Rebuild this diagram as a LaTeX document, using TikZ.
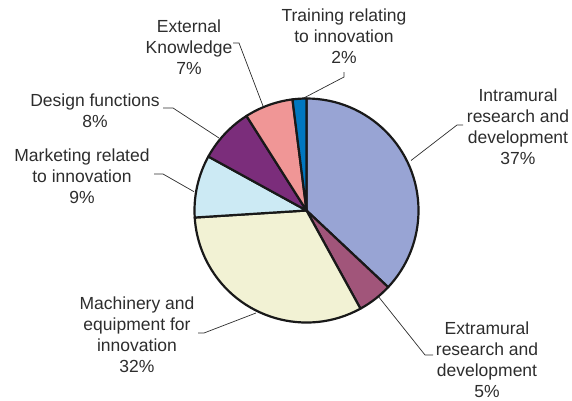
\documentclass[tikz,border=0pt]{standalone}
\usepackage{fontspec}
\setmainfont{Liberation Sans}
\usetikzlibrary{calc}
\definecolor{intracol}{RGB}{152,164,212}
\definecolor{extracol}{RGB}{161,85,122}
\definecolor{machcol}{RGB}{242,242,212}
\definecolor{mktcol}{RGB}{204,234,244}
\definecolor{designcol}{RGB}{123,45,123}
\definecolor{extcol}{RGB}{240,150,150}
\definecolor{traincol}{RGB}{0,119,192}
\definecolor{textgray}{RGB}{45,45,45}
\def\pieslice[#1](#2:#3){\filldraw[#1] (306.5,189.5) -- ++(#2:112) arc (#2:#3:112) -- cycle;}

\begin{document}
\begin{tikzpicture}[x=1pt,y=1pt,
	lbl/.style={font=\fontsize{17.5}{21}\selectfont, text=textgray, align=center, inner sep=0pt, anchor=north},
	leader/.style={draw=textgray, line width=0.7pt},
	slice/.style={draw=black!90, line width=2.2pt, line join=round}]
			%%%%% START %%%%%
			\useasboundingbox (0,0) rectangle (572,400);
			
			\node[lbl] (intra) at (518,311) {Intramural\\research and\\development\\37\%};
			\node[lbl] (extra) at (487,78.3) {Extramural\\research and\\development\\5\%};
			\node[lbl] (mach) at (137,103.3) {Machinery and\\equipment for\\innovation\\32\%};
			\node[lbl] (mkt) at (82,251) {Marketing related\\to innovation\\9\%};
			\node[lbl] (design) at (95,306) {Design functions\\8\%};
			\node[lbl] (ext) at (189,380.7) {External\\Knowledge\\7\%};
			\node[lbl] (train) at (344,391) {Training relating\\to innovation\\2\%};
			
			% leader lines
			\coordinate (intra-a) at (463,275);
			\coordinate (intra-b) at (457,275);
			\coordinate (intra-c) at (411,239.5);
			\coordinate (extra-a) at (433,45);
			\coordinate (extra-b) at (425,45);
			\coordinate (extra-c) at (378,104);
			\coordinate (mach-a) at (198,67);
			\coordinate (mach-b) at (204,67);
			\coordinate (mach-c) at (256,87);
			\coordinate (mkt-a) at (154,226);
			\coordinate (mkt-b) at (163,226);
			\coordinate (mkt-c) at (194,208.3);
			\coordinate (design-a) at (163,292);
			\coordinate (design-b) at (173,292);
			\coordinate (design-c) at (219,262);
			\coordinate (ext-a) at (233,357);
			\coordinate (ext-b) at (239,357);
			\coordinate (ext-c) at (263,294);
			\coordinate (train-a) at (344,328);
			\coordinate (train-b) at (344,323);
			\coordinate (train-c) at (300,300);
			
			\draw[leader] (intra-a) -- (intra-b) -- (intra-c);
			\draw[leader] (extra-a) -- (extra-b) -- (extra-c);
			\draw[leader] (mach-a) -- (mach-b) -- (mach-c);
			\draw[leader] (mkt-a) -- (mkt-b) -- (mkt-c);
			\draw[leader] (design-a) -- (design-b) -- (design-c);
			\draw[leader] (ext-a) -- (ext-b) -- (ext-c);
			\draw[leader] (train-a) -- (train-b) -- (train-c);
			
			% slices, clockwise from the top
			\pieslice[slice, fill=intracol](90:-43.2)
			\pieslice[slice, fill=extracol](-43.2:-61.2)
			\pieslice[slice, fill=machcol](-61.2:-176.4)
			\pieslice[slice, fill=mktcol](-176.4:-208.8)
			\pieslice[slice, fill=designcol](-208.8:-237.6)
			\pieslice[slice, fill=extcol](-237.6:-262.8)
			\pieslice[slice, fill=traincol](-262.8:-270)
			
			%%%%% END %%%%%
\end{tikzpicture}
\end{document}
